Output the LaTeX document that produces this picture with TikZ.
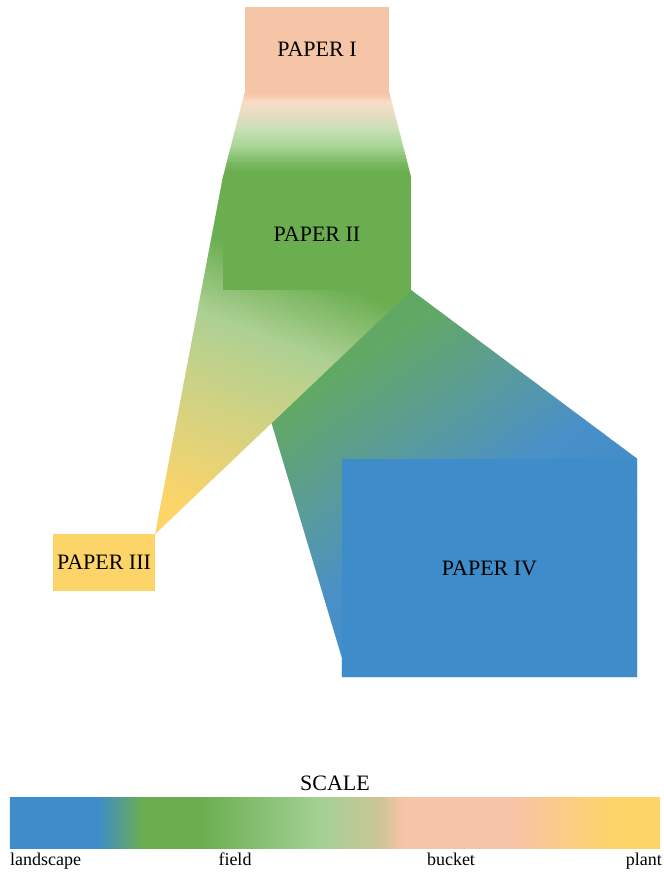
\documentclass[tikz,border=0pt]{standalone}
\usepackage{fontspec}
\setmainfont{Liberation Serif}
\usetikzlibrary{calc}
\pgfdeclarelayer{bg}
\pgfsetlayers{bg,main}
\definecolor{peach}{HTML}{F6C4A6}
\definecolor{peachL}{HTML}{F8DCC8}
\definecolor{tanI}{HTML}{E2DDC2}
\definecolor{lgI}{HTML}{C2E0B2}
\definecolor{lgII}{HTML}{A5D492}
\definecolor{gmid}{HTML}{7DBB66}
\definecolor{grn}{HTML}{6AAE50}
\definecolor{lgIII}{HTML}{ADD093}
\definecolor{tanIII}{HTML}{D8D27F}
\definecolor{yel}{HTML}{FDD468}
\definecolor{grIV}{HTML}{62A865}
\definecolor{tealIV}{HTML}{5A9C98}
\definecolor{blIV}{HTML}{4A90C8}
\definecolor{blu}{HTML}{3F8CCA}
\definecolor{lgS}{HTML}{A3D193}
\definecolor{tanS}{HTML}{CBC497}
\newcommand{\gradstripes}[3]{%
\begin{scope}[rotate=#1]
\foreach \pa/\ca/\pb/\cb in {#3} {%
  \pgfmathtruncatemacro{\gN}{ceil((\pb-\pa)/1.5)}%
  \pgfmathsetmacro{\gW}{(\pb-\pa)/\gN}%
  \foreach \gi in {1,...,\gN} {%
    \pgfmathsetmacro{\gS}{\pa+(\gi-1)*\gW}%
    \pgfmathsetmacro{\gE}{\pa+\gi*\gW+0.8}%
    \pgfmathsetmacro{\gT}{100*(1-(\gi-0.5)/\gN)}%
    \fill[\ca!\gT!\cb] (\gS,-#2) rectangle (\gE,#2);
  }%
}%
\end{scope}}
\begin{document}
\begin{tikzpicture}[x=1pt,y=-1pt,
  box/.style={inner sep=0pt, font=\fontsize{22}{26}\selectfont, text=black},
  lab/.style={inner sep=0pt, font=\fontsize{18}{21}\selectfont, text=black}]
\useasboundingbox (0,0) rectangle (664,873);
% boxes
\node[box, fill=peach, minimum width=144pt, minimum height=85pt] (p1) at (317,49.5) {PAPER I};
\node[box, fill=grn, minimum width=188pt, minimum height=112pt] (p2) at (317,234) {PAPER II};
\node[box, fill=yel, minimum width=102pt, minimum height=57pt] (p3) at (104,562.5) {PAPER III};
\node[box, fill=blu, minimum width=295pt, minimum height=218pt] (p4) at (489.5,568) {PAPER IV};
% scale
\node[box, anchor=base] (scaletitle) at (335,790) {SCALE};
\node[inner sep=0pt, minimum width=650pt, minimum height=50pt] (bar) at (335,823) {};
\node[lab, anchor=base west] (l1) at (10,865) {landscape};
\node[lab, anchor=base] (l2) at (235,865) {field};
\node[lab, anchor=base] (l3) at (451,865) {bucket};
\node[lab, anchor=base east] (l4) at (662,865) {plant};
\begin{pgfonlayer}{bg}
\fill[white] (0,0) rectangle (664,873);
% PAPER II -> PAPER IV
\begin{scope}
\clip ($(p2.south west)+(9,0)$) -- (p2.south east) -- (p4.north east) -- (p4.south east) -- (p4.south west) -- ($(p4.south west)+(0,-20)$) -- cycle;
\gradstripes{-55}{1200}{360/grIV/500/grIV, 500/grIV/590/tealIV, 590/tealIV/680/blIV, 680/blIV/760/blu, 760/blu/930/blu}
\end{scope}
% PAPER II -> PAPER III
\begin{scope}
\clip (p2.north west) -- (p2.south east) -- (p3.north east) -- cycle;
\gradstripes{-110.8}{1200}{70/grn/145/grn, 145/grn/220/lgIII, 220/lgIII/320/tanIII, 320/tanIII/410/yel, 410/yel/460/yel}
\end{scope}
% PAPER I -> PAPER II
\begin{scope}
\clip (p1.south west) -- (p1.south east) -- (p2.north east) -- (p2.north west) -- cycle;
\gradstripes{-90}{1200}{88/peach/94/peach, 94/peach/102/peachL, 102/peachL/117/tanI, 117/tanI/132/lgI, 132/lgI/148/lgII, 148/lgII/162/gmid, 162/gmid/172/grn, 172/grn/182/grn}
\end{scope}
% scale bar
\begin{scope}
\clip (bar.south west) rectangle (bar.north east);
\gradstripes{0}{1200}{5/blu/98/blu, 98/blu/143/grn, 143/grn/200/grn, 200/grn/320/lgS, 320/lgS/379/tanS, 379/tanS/402/peach, 402/peach/512/peach, 512/peach/615/yel, 615/yel/665/yel}
\end{scope}
\end{pgfonlayer}
\end{tikzpicture}
\end{document}
